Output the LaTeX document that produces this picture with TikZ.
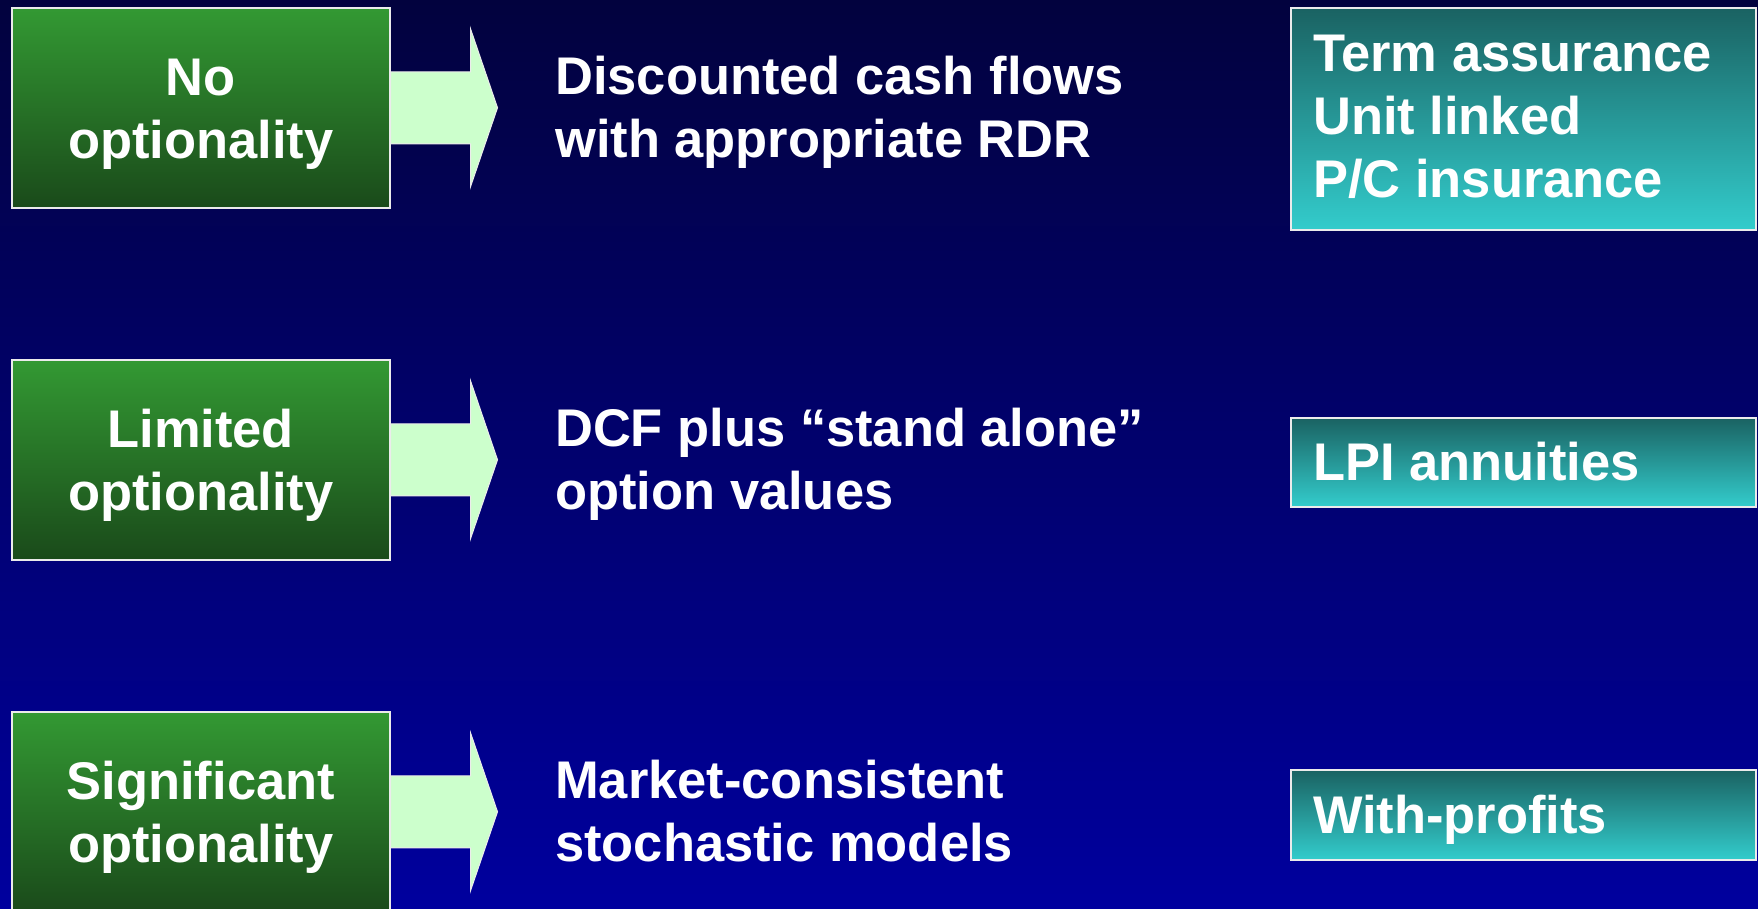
\documentclass[tikz,border=0pt]{standalone}
\usepackage{fontspec}
\setmainfont{Liberation Sans}[FakeStretch=0.99]
\definecolor{bgtop}{RGB}{2,2,62}
\definecolor{bgbot}{RGB}{0,0,158}
\definecolor{gtop}{RGB}{51,153,51}
\definecolor{gbot}{RGB}{26,74,26}
\definecolor{ttop}{RGB}{26,98,98}
\definecolor{tbot}{RGB}{51,204,204}
\definecolor{boxline}{RGB}{235,235,235}
\definecolor{arrowfill}{RGB}{204,255,204}
\begin{document}
\begin{tikzpicture}[x=1pt,y=-1pt,
  bigfont/.style={font=\bfseries\fontsize{53}{63}\selectfont},
  greenbox/.style={draw=boxline, line width=1.5pt, top color=gtop, bottom color=gbot,
    minimum width=378pt, minimum height=200pt, inner sep=0pt, anchor=north west},
  tealbox/.style={draw=boxline, line width=1.5pt, top color=ttop, bottom color=tbot,
    minimum width=465pt, inner sep=0pt, anchor=north west},
  boxtext/.style={bigfont, text=white, align=center, inner sep=0pt},
  sidetext/.style={bigfont, text=white, align=left, inner sep=0pt, anchor=west},
  blockarrow/.style={draw=boxline, line width=1pt, fill=arrowfill, line join=miter},
]
\useasboundingbox (0,0) rectangle (1758,908);
\fill[top color=bgtop, bottom color=bgbot] (0,0) rectangle (1758,908);

% green category boxes
\node[greenbox] (g1) at (11,7) {};
\node[greenbox] (g2) at (11,359) {};
\node[greenbox] (g3) at (11,711) {};
\node[boxtext] (g1t) at ([yshift=-7pt]g1.center) {\strut No\\\strut optionality};
\node[boxtext] (g2t) at ([yshift=-7pt]g2.center) {\strut Limited\\\strut optionality};
\node[boxtext] (g3t) at ([yshift=-7pt]g3.center) {\strut Significant\\\strut optionality};

% methods
\node[sidetext] (m1) at (555,113) {\strut Discounted cash flows\\\strut with appropriate RDR};
\node[sidetext] (m2) at (555,465) {\strut DCF plus “stand alone”\\\strut option values};
\node[sidetext] (m3) at (555,817) {\strut Market-consistent\\\strut stochastic models};

% block arrows
\foreach \g in {g1,g2,g3}{
  \draw[blockarrow] (\g.east) ++(0,-36) -- ++(80,0) -- ++(0,-43) -- ++(27,79)
    -- ++(-27,79) -- ++(0,-43) -- ++(-80,0) -- cycle;
}

% teal example boxes
\node[tealbox, minimum height=222pt] (t1) at (1290,7) {};
\node[tealbox, minimum height=89pt] (t2) at (1290,417) {};
\node[tealbox, minimum height=90pt] (t3) at (1290,769) {};
\node[sidetext] (t1t) at ([xshift=23pt,yshift=-3pt]t1.west) {\strut Term assurance\\\strut Unit linked\\\strut P/C insurance};
\node[sidetext] (t2t) at ([xshift=23pt,yshift=-6pt]t2.west) {\strut LPI annuities};
\node[sidetext] (t3t) at ([xshift=23pt,yshift=-6pt]t3.west) {\strut With-profits};
\end{tikzpicture}
\end{document}
